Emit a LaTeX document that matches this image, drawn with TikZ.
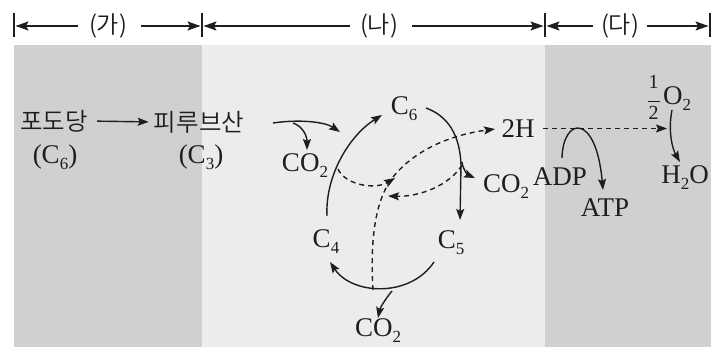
\documentclass[tikz,border=0pt]{standalone}
\usepackage{fontspec}
\setmainfont{Liberation Serif}
\IfFontExistsTF{Noto Sans CJK KR DemiLight}{\newfontfamily\kr{Noto Sans CJK KR DemiLight}}{\newfontfamily\kr{Noto Sans CJK KR}}
\usetikzlibrary{arrows.meta}
\definecolor{bgdark}{RGB}{208,208,208}
\definecolor{bglight}{RGB}{236,236,236}
\definecolor{ink}{RGB}{30,30,30}
\newcommand{\sbs}[1]{\raisebox{-0.22em}{\fontsize{17}{17}\selectfont #1}}
\begin{document}
\begin{tikzpicture}[x=1pt,y=-1pt,
  conn/.style={line width=1.4pt, draw=ink, -{Stealth[length=11pt,width=8pt,inset=2pt]}},
  dsh/.style={conn, dash pattern=on 5pt off 4pt},
  hdr/.style={line width=1.4pt, draw=ink, -{Stealth[length=13pt,width=9pt,inset=2.5pt]}},
  tick/.style={line width=2pt, draw=ink},
  lbl/.style={font=\fontsize{27}{27}\selectfont, text=ink, inner sep=0pt},
  krl/.style={font=\kr\fontsize{24.5}{24.5}\selectfont, text=ink, inner sep=0pt},
  hkr/.style={font=\kr\fontsize{24}{24}\selectfont, text=ink, inner sep=0pt},
  frc/.style={font=\fontsize{20}{20}\selectfont, text=ink, inner sep=0pt},
]
\useasboundingbox (0,0) rectangle (715,350);
% backgrounds
\fill[bgdark] (14,45) rectangle (202,347);
\fill[bglight] (202,45) rectangle (545,347);
\fill[bgdark] (545,45) rectangle (711,347);

% header
\coordinate (t1a) at (14,13); \coordinate (t1b) at (14,37);
\coordinate (t2a) at (202,13); \coordinate (t2b) at (202,37);
\coordinate (t3a) at (545,13); \coordinate (t3b) at (545,37);
\coordinate (t4a) at (710,13); \coordinate (t4b) at (710,37);
\draw[tick] (t1a) -- (t1b);
\draw[tick] (t2a) -- (t2b);
\draw[tick] (t3a) -- (t3b);
\draw[tick] (t4a) -- (t4b);
\coordinate (e1) at (15.5,26); \coordinate (e2) at (200.5,26);
\coordinate (e3) at (203.5,26); \coordinate (e4) at (543.5,26);
\coordinate (e5) at (546.5,26); \coordinate (e6) at (708.5,26);
\node[hkr] (ga) at (108,26) {(가)};
\node[hkr] (na) at (379,26) {(나)};
\node[hkr] (da) at (620,26) {(다)};
\draw[hdr, shorten <=11pt] (ga.west) -- (e1);
\draw[hdr, shorten <=14pt] (ga.east) -- (e2);
\draw[hdr, shorten <=10pt] (na.west) -- (e3);
\draw[hdr, shorten <=14pt] (na.east) -- (e4);
\draw[hdr, shorten <=8pt] (da.west) -- (e5);
\draw[hdr, shorten <=8pt] (da.east) -- (e6);

% text nodes
\node[krl] (glu) at (54,121) {포도당};
\node[krl] (pyr) at (199,122) {피루브산};
\node[lbl] (c6a) at (55,157) {(C\sbs{6})};
\node[lbl] (c3) at (201,157) {(C\sbs{3})};
\node[lbl] (co2a) at (305,166) {CO\sbs{2}};
\node[lbl] (c6) at (404,109) {C\sbs{6}};
\node[lbl] (h2) at (518,129) {2H};
\node[lbl] (co2b) at (506,187) {CO\sbs{2}};
\node[lbl] (c4) at (326,242) {C\sbs{4}};
\node[lbl] (c5) at (451,243) {C\sbs{5}};
\node[lbl] (co2c) at (378,331) {CO\sbs{2}};
\node[lbl] (adp) at (560,177) {ADP};
\node[lbl] (atp) at (605,208) {ATP};
\node[lbl] (o2) at (677,99) {O\sbs{2}};
\node[frc, anchor=east] (half) at ([xshift=-3pt,yshift=-1pt]o2.west) {\begin{tabular}{@{}c@{}}1\\[-6pt]\rule{12pt}{1pt}\\[-3pt]2\end{tabular}};
\node[lbl] (h2o) at (685,178) {H\sbs{2}O};

% glucose -> pyruvate
\draw[conn, shorten <=9pt, shorten >=5pt] (glu.east) -- (pyr.west);

% pyruvate entering, with CO2 branch
\coordinate (p0) at (273,123);
\coordinate (p1) at (340,132);
\coordinate (pb) at (293,123);
\coordinate (pb1) at (307,150);
\draw[conn] (p0) .. controls (300,119) and (325,122) .. (p1);
\draw[conn] (pb) .. controls (302,126) and (307,135) .. (pb1);

% C4 -> C6
\coordinate (a0) at (327,216);
\coordinate (a1) at (382,115);
\draw[conn] (a0) .. controls (325,175) and (350,135) .. (a1);

% C6 -> C5
\coordinate (b0) at (426,108);
\coordinate (bm) at (461,165);
\coordinate (b1) at (460,220);
\draw[conn] (b0) .. controls (448,116) and (460,135) .. (bm) -- (b1);
\coordinate (bb0) at (462,162);
\coordinate (bb1) at (475,178);
\draw[conn] (bb0) .. controls (463,170) and (468,175) .. (bb1);

% C5 -> C4
\coordinate (c0) at (434,262);
\coordinate (c1) at (330,262);
\draw[conn] (c0) .. controls (410,298) and (352,295) .. (c1);
\coordinate (cb0) at (392,291);
\coordinate (cb1) at (378,318);
\draw[conn] (cb0) .. controls (386,298) and (380,308) .. (cb1);

% dashed paths
\coordinate (d0) at (373,290);
\coordinate (dm) at (393,177);
\coordinate (d1) at (495,129);
\draw[dsh] (d0) .. controls (370,240) and (375,200) .. (dm) .. controls (415,150) and (450,135) .. (d1);
\coordinate (l0) at (338,169);
\coordinate (l1) at (395,178);
\draw[dsh] (l0) .. controls (345,185) and (375,190) .. (l1);
\coordinate (r0) at (462,165);
\coordinate (r1) at (388,196);
\draw[dsh] (r0) .. controls (450,185) and (420,197) .. (r1);
\coordinate (h0) at (543,128.5);
\coordinate (h1) at (667,128.5);
\draw[dsh] (h0) -- (h1);

% ADP -> ATP
\coordinate (q0) at (562,158);
\coordinate (q1) at (603,190);
\draw[conn] (q0) .. controls (563,117) and (596,112) .. (q1);

% O2 -> H2O
\coordinate (o0) at (672,110);
\coordinate (o1) at (680,162);
\draw[conn] (o0) .. controls (668,130) and (672,148) .. (o1);
\end{tikzpicture}
\end{document}
